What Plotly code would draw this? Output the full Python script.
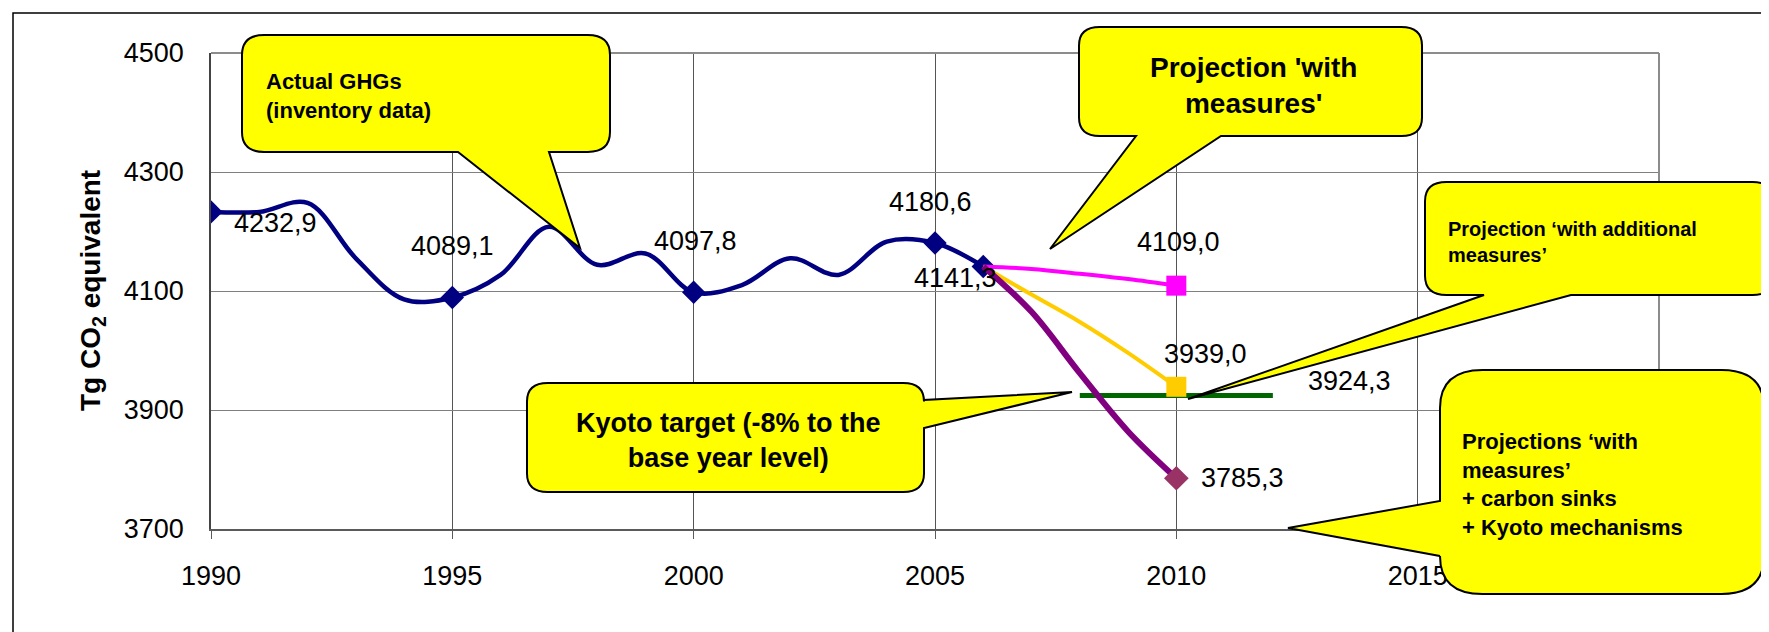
import plotly.graph_objects as go


# =========================================
# DATA
# =========================================
YEARS = list(range(1990, 2007))
GHG = [4232.9, 4233, 4248, 4155, 4086, 4089.1, 4127, 4208, 4144, 4163,
       4097.8, 4110, 4155, 4127, 4183, 4180.6, 4141.3]
MARKED_YEARS = [1990, 1995, 2000, 2005, 2006]

PROJ_YEARS = [2006, 2007, 2008, 2009, 2010]
WITH_MEASURES = [4141.3, 4137, 4129, 4120, 4109.0]
WITH_ADDITIONAL = [4141.3, 4094, 4048, 3996, 3939.0]
WITH_SINKS_KYOTO = [4141.3, 4065, 3962, 3864, 3785.3]

KYOTO_YEARS = [2008, 2012]
KYOTO_TARGET = [3924.3, 3924.3]

X_TICKS = [1990, 1995, 2000, 2005, 2010, 2015]
Y_TICKS = [3700, 3900, 4100, 4300, 4500]


# =========================================
# STYLE
# =========================================
FONT = "Liberation Sans, Arial, sans-serif"
NAVY = "#000080"
PINK = "#FF00FF"
GOLD = "#FFCC00"
PURPLE = "#800080"
PLUM = "#993366"
GREEN = "#006600"
CALLOUT_FILL = "#FFFF00"

W, H = 1769, 632
PL, PR, PT, PB = 203, 1651, 45, 521


def fx(x):
    return (x - PL) / (PR - PL)


def fy(y):
    return (PB - y) / (PB - PT)


def pt(x, y):
    return f"{fx(x):.5f},{fy(y):.5f}"


def bubble(x0, y0, x1, y1, side, a, b, tx, ty):
    r = min(x1 - x0, y1 - y0) * 0.17
    rx, ry = r * 1.12, r
    p = f"M {pt(x0 + rx, y0)} L {pt(x1 - rx, y0)} Q {pt(x1, y0)} {pt(x1, y0 + ry)}"
    if side == "right":
        p += f" L {pt(x1, a)} L {pt(tx, ty)} L {pt(x1, b)}"
    p += f" L {pt(x1, y1 - ry)} Q {pt(x1, y1)} {pt(x1 - rx, y1)}"
    if side == "bottom":
        p += f" L {pt(b, y1)} L {pt(tx, ty)} L {pt(a, y1)}"
    p += f" L {pt(x0 + rx, y1)} Q {pt(x0, y1)} {pt(x0, y1 - ry)}"
    if side == "left":
        p += f" L {pt(x0, b)} L {pt(tx, ty)} L {pt(x0, a)}"
    p += f" L {pt(x0, y0 + ry)} Q {pt(x0, y0)} {pt(x0 + rx, y0)} Z"
    return dict(type="path", xref="paper", yref="paper", path=p,
                fillcolor=CALLOUT_FILL, line=dict(color="black", width=2),
                layer="above")


def fmt(v):
    return f"{v:.1f}".replace(".", ",")


fig = go.Figure()

# Kyoto target
fig.add_trace(go.Scatter(
    x=KYOTO_YEARS, y=KYOTO_TARGET, mode="lines",
    line=dict(color=GREEN, width=5)
))

# inventory data
fig.add_trace(go.Scatter(
    x=YEARS, y=GHG, mode="lines",
    line=dict(color=NAVY, width=4.5, shape="spline")
))
marked_vals = [GHG[YEARS.index(yr)] for yr in MARKED_YEARS]
fig.add_trace(go.Scatter(
    x=MARKED_YEARS, y=marked_vals, mode="markers",
    marker=dict(symbol="diamond", size=18, color=NAVY)
))

# projections
for vals, color, width, symbol, msize, mcolor in [
    (WITH_MEASURES, PINK, 4, "square", 20, PINK),
    (WITH_ADDITIONAL, GOLD, 4, "square", 20, GOLD),
    (WITH_SINKS_KYOTO, PURPLE, 6, "diamond", 19, PLUM),
]:
    fig.add_trace(go.Scatter(
        x=PROJ_YEARS, y=vals, mode="lines",
        line=dict(color=color, width=width, shape="spline")
    ))
    fig.add_trace(go.Scatter(
        x=PROJ_YEARS[-1:], y=vals[-1:], mode="markers",
        marker=dict(symbol=symbol, size=msize, color=mcolor)
    ))

# data labels (x, y, pixel offset)
labels = [(yr, v) for yr, v in zip(MARKED_YEARS, marked_vals)]
labels += [(PROJ_YEARS[-1], WITH_MEASURES[-1]),
           (PROJ_YEARS[-1], WITH_ADDITIONAL[-1]),
           (PROJ_YEARS[-1], WITH_SINKS_KYOTO[-1]),
           (KYOTO_YEARS[-1], KYOTO_TARGET[-1])]
offsets = [(64, -11), (0, 51), (2, 51), (-5, 41), (-28, -12),
           (2, 44), (29, 33), (66, 0), (77, 15)]
for (xv, yv), (dx, dy) in zip(labels, offsets):
    fig.add_annotation(
        x=xv, y=yv, text=fmt(yv), showarrow=False,
        xshift=dx, yshift=dy, xanchor="center", yanchor="middle",
        font=dict(family=FONT, size=27, color="black")
    )

# frame and callouts
shapes = [
    dict(type="rect", xref="paper", yref="paper",
         x0=fx(5), x1=fx(1756), y0=fy(5), y1=fy(700),
         line=dict(color="black", width=1.5), layer="below"),
    dict(type="line", xref="paper", yref="paper", x0=0, x1=1, y0=1, y1=1,
         line=dict(color="#8c8c8c", width=2), layer="above"),
    dict(type="line", xref="paper", yref="paper", x0=1, x1=1, y0=0, y1=1,
         line=dict(color="#8c8c8c", width=2), layer="above"),
    bubble(234, 27, 602, 144, "bottom", 450, 541, 572, 240),
    bubble(1071, 19, 1414, 128, "bottom", 1128, 1213, 1042, 241),
    bubble(1417, 174, 1766, 287, "bottom", 1476, 1563, 1180, 391),
    bubble(519, 375, 916, 484, "right", 392, 420, 1064, 384),
    bubble(1432, 362, 1756, 586, "left", 493, 548, 1280, 520),
]

callout_texts = [
    ("Actual GHGs<br>(inventory data)", 256, 88, "left", 22),
    ("Projection 'with<br>measures'", 1245, 77, "center", 28),
    ("Kyoto target (-8% to the<br>base year level)", 720, 432, "center", 27),
    ("Projection ‘with additional<br>measures’", 1438, 234, "left", 20),
    ("Projections ‘with<br>measures’<br>+ carbon sinks<br>+ Kyoto mechanisms",
     1452, 476, "left", 22),
]
for text, x, y, align, size in callout_texts:
    fig.add_annotation(
        x=fx(x), y=fy(y), xref="paper", yref="paper", text=text,
        showarrow=False, xanchor=align, yanchor="middle", align=align,
        font=dict(family=FONT, size=size, color="black", weight="bold")
    )

fig.add_annotation(
    x=fx(84), y=0.5, xref="paper", yref="paper",
    text="Tg CO<sub>2</sub> equivalent", textangle=-90, showarrow=False,
    xanchor="center", yanchor="middle",
    font=dict(family=FONT, size=28, color="black", weight="bold")
)

fig.update_layout(
    width=W, height=H, autosize=False,
    margin=dict(l=PL, r=W - PR, t=PT, b=H - PB),
    paper_bgcolor="white", plot_bgcolor="white",
    showlegend=False,
    font=dict(family=FONT, size=27, color="black"),
    shapes=shapes
)

fig.update_xaxes(
    range=[1990, 2020], tickvals=X_TICKS,
    showgrid=True, gridcolor="#555555", gridwidth=1,
    showline=True, linecolor="#5a5a5a", linewidth=2,
    ticks="outside", ticklen=8, tickcolor="#5a5a5a",
    ticklabelstandoff=14, zeroline=False
)

fig.update_yaxes(
    range=[3700, 4500], tickvals=Y_TICKS,
    showgrid=True, gridcolor="#808080", gridwidth=1,
    showline=True, linecolor="#444444", linewidth=1.5,
    ticks="", ticklabelstandoff=20, zeroline=False
)

fig.write_html("out.html")
